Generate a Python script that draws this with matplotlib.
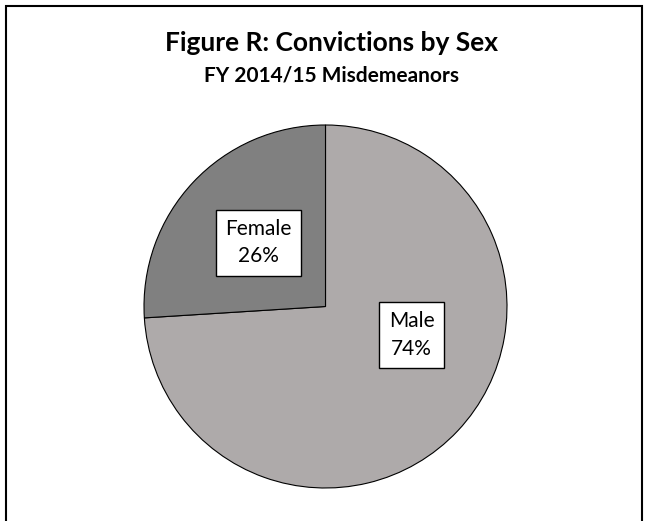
import matplotlib
matplotlib.use("Agg")
import matplotlib.pyplot as plt
from matplotlib.patches import Rectangle
import numpy as np

# Data
categories = ["Male", "Female"]
values = [74, 26]
colors = ["#aeaaaa", "#808080"]
title_line1 = "Figure R: Convictions by Sex"
title_line2 = "FY 2014/15 Misdemeanors"

W, H = 651, 521
fig = plt.figure(figsize=(W / 100, H / 100), dpi=100)
fig.patch.set_facecolor("white")

# pie placement (pixels)
cx, cy, r = 325.5, 306.5, 181.5
ax = fig.add_axes([(cx - r) / W, (H - cy - r) / H, 2 * r / W, 2 * r / H])
wedges, _ = ax.pie(values, colors=colors, startangle=90, counterclock=False,
                   radius=1.0, wedgeprops=dict(edgecolor="black", linewidth=0.8))
ax.set_xlim(-1, 1)
ax.set_ylim(-1, 1)
ax.set_aspect("equal")
ax.axis("off")

# label positions (radius fraction, angle deg) - layout only
label_pos = {"Female": (0.51, 136.5), "Male": (0.50, -18.3)}
for cat, val in zip(categories, values):
    rr, ang = label_pos[cat]
    a = np.deg2rad(ang)
    ax.text(rr * np.cos(a), rr * np.sin(a), f"{cat}\n{val}%", ha="center", va="center",
            fontsize=15, family="Lato", linespacing=1.45,
            bbox=dict(boxstyle="square,pad=0.45", facecolor="white", edgecolor="black", linewidth=1.0))

fig.text(331.5 / W, 1 - 43 / H, title_line1, ha="center", va="center",
         fontsize=19, fontweight="bold", family="Lato")
fig.text(331.5 / W, 1 - 75 / H, title_line2, ha="center", va="center",
         fontsize=15, fontweight="bold", family="Lato")

# outer frame
fig.add_artist(Rectangle((5.5 / W, -0.1), (642 - 5.5) / W, 1.1 - 5.5 / H,
                         transform=fig.transFigure, fill=False, edgecolor="black",
                         linewidth=1.5, clip_on=False))

fig.savefig("out.png", dpi=100)
